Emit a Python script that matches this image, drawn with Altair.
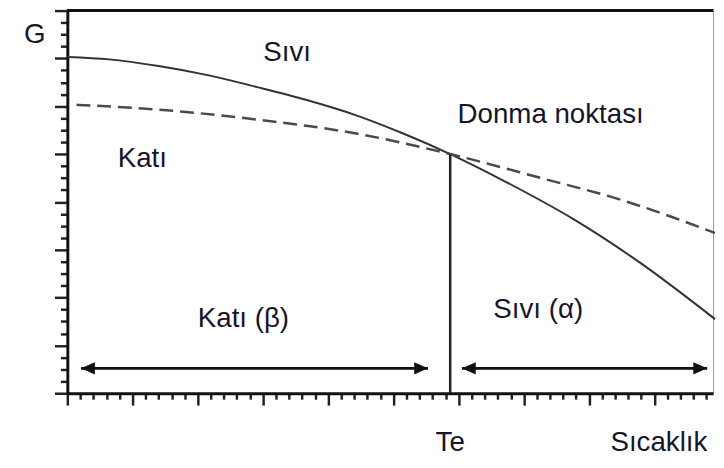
import altair as alt
import pandas as pd

# ---- data ----
X_MAX = 9.9
Y_MAX = 8.0

liquid_x = [0.0, 0.64, 1.40, 2.15, 2.91, 3.67, 4.43, 5.15, 5.87, 6.75, 7.76, 8.78, 9.93]
liquid_y = [7.03, 6.98, 6.84, 6.65, 6.40, 6.13, 5.81, 5.43, 5.00, 4.40, 3.64, 2.73, 1.55]

solid_x = [0.14, 1.39, 2.91, 4.43, 5.87, 7.26, 8.52, 9.28, 9.93]
solid_y = [6.03, 5.93, 5.72, 5.43, 5.00, 4.50, 4.03, 3.68, 3.35]

te_x = 5.87
te_y = 5.00

arrow_y = 0.52
arrow_left = [0.21, 5.53]    # Katı (β) region
arrow_right = [6.05, 9.81]   # Sıvı (α) region

label_text = ["G", "Sıvı", "Katı", "Donma noktası", "Katı (β)", "Sıvı (α)", "Te", "Sıcaklık"]
label_x = [-0.50, 3.37, 1.15, 7.41, 2.70, 7.22, 5.87, 9.07]
label_y = [7.48, 7.11, 4.90, 5.81, 1.55, 1.74, -1.05, -1.05]

x_ticks = [round(i * 0.2, 2) for i in range(50)]
y_ticks = [round(i * 0.25, 2) for i in range(33)]

# ---- frames ----
liq = pd.DataFrame({"x": liquid_x, "y": liquid_y})
sol = pd.DataFrame({"x": solid_x, "y": solid_y})
vline = pd.DataFrame({"x": [te_x], "y": [0.0], "y2": [te_y]})
arrows = pd.DataFrame({
    "x": [arrow_left[0], arrow_right[0]],
    "x2": [arrow_left[1], arrow_right[1]],
    "y": [arrow_y, arrow_y],
})
heads_l = pd.DataFrame({"x": [arrow_left[0], arrow_right[0]], "y": [arrow_y, arrow_y]})
heads_r = pd.DataFrame({"x": [arrow_left[1], arrow_right[1]], "y": [arrow_y, arrow_y]})
labels = pd.DataFrame({"x": label_x, "y": label_y, "t": label_text})

major_test = "abs(datum.value - round(datum.value)) < 0.001"

xaxis = alt.Axis(
    values=x_ticks, labels=False, title=None, grid=False,
    domainColor="#111", domainWidth=3, tickColor="#222", tickWidth=2.5,
    tickSize={"condition": {"test": major_test, "value": 12}, "value": 6},
)
yaxis = alt.Axis(
    values=y_ticks, labels=False, title=None, grid=False,
    domainColor="#111", domainWidth=3, tickColor="#222", tickWidth=2.5,
    tickSize={"condition": {"test": major_test, "value": 13}, "value": 7},
)
xs = alt.Scale(domain=[0, X_MAX], nice=False, zero=False)
ys = alt.Scale(domain=[0, Y_MAX], nice=False, zero=False)

X = alt.X("x:Q", scale=xs, axis=xaxis)
Y = alt.Y("y:Q", scale=ys, axis=yaxis)

ink = "#222222"
txt = "#15152b"

liquid_line = alt.Chart(liq).mark_line(
    color="#333333", strokeWidth=2, interpolate="monotone"
).encode(x=X, y=Y)

top = alt.Chart(liq).mark_rule(color="#111", strokeWidth=3).encode(
    y=alt.YDatum(Y_MAX, scale=ys, axis=yaxis)
)

solid_line = alt.Chart(sol).mark_line(
    color="#4a4a4a", strokeWidth=2.5, strokeDash=[14, 7], interpolate="monotone"
).encode(x=X, y=Y)

te_rule = alt.Chart(vline).mark_rule(color=ink, strokeWidth=2.5).encode(
    x=X, y=Y, y2="y2:Q"
)

shaft = alt.Chart(arrows).mark_rule(color="#111", strokeWidth=3).encode(
    x=X, x2="x2:Q", y=Y
)
head_l = alt.Chart(heads_l).mark_point(
    shape="M-1,0L1,-0.9L1,0.9Z", filled=True, color="#111", opacity=1,
    size=196, xOffset=7
).encode(x=X, y=Y)
head_r = alt.Chart(heads_r).mark_point(
    shape="M1,0L-1,-0.9L-1,0.9Z", filled=True, color="#111", opacity=1,
    size=196, xOffset=-7
).encode(x=X, y=Y)

text = alt.Chart(labels).mark_text(
    font="Liberation Sans", fontSize=28, color=txt, align="center", baseline="middle"
).encode(x=X, y=Y, text="t:N")

chart = alt.layer(
    liquid_line, top, solid_line, te_rule, shaft, head_l, head_r, text
).properties(
    width=653, height=387,
    autosize=alt.AutoSizeParams(type="none"),
    padding={"left": 60, "top": 0, "right": 3, "bottom": 73},
).configure_view(stroke="#9a9a9a", strokeWidth=1)

chart.save("out.html", embed_options={"renderer": "svg", "actions": False})
